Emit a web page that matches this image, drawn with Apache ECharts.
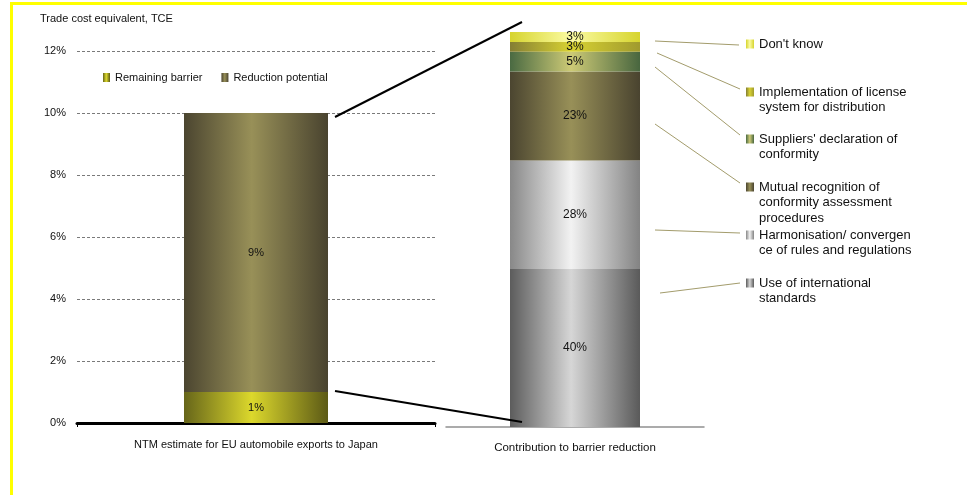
<!DOCTYPE html>
<html>
<head>
<meta charset="utf-8">
<script src="https://cdn.jsdelivr.net/npm/echarts@6/dist/echarts.min.js"></script>
<style>
html,body{margin:0;padding:0;background:#fff;}
#chart{width:967px;height:495px;}
</style>
</head>
<body>
<div id="chart"></div>
<script>
// ---- data ----
const leftCategories = ['NTM estimate for EU automobile exports to Japan'];
const remainingBarrier = [1];
const reductionPotential = [9];
const leftSeriesNames = ['Remaining barrier', 'Reduction potential'];
const yMax = 12;
const yInterval = 2;

const rightCategories = ['Contribution to barrier reduction'];
const contribNames = [
  'Use of international standards',
  'Harmonisation/convergence of rules and regulations',
  'Mutual recognition of conformity assessment procedures',
  "Suppliers' declaration of conformity",
  'Implementation of license system for distribution',
  "Don't know"
];
const contribLegendLabels = [
  'Use of international\nstandards',
  'Harmonisation/ convergen\nce of rules and regulations',
  'Mutual recognition of\nconformity assessment\nprocedures',
  "Suppliers' declaration of\nconformity",
  'Implementation of license\nsystem for distribution',
  "Don't know"
];
const contribValues = [40, 27.5, 22.5, 5, 2.5, 2.5];

// ---- styles ----
const FONT = "'Liberation Sans', Arial, sans-serif";
function grad(edge, mid, edge2) {
  return new echarts.graphic.LinearGradient(0, 0, 1, 0, [
    {offset: 0, color: edge},
    {offset: 0.47, color: mid},
    {offset: 1, color: edge2 || edge}
  ]);
}
const leftColors = [
  grad('#66651a', '#dcd82c', '#5c5a16'),
  grad('#4b4530', '#989058', '#49432f')
];
const rightColors = [
  grad('#5c5c5c', '#d6d6d6', '#5a5a5a'),
  grad('#888888', '#f2f2f2', '#838383'),
  grad('#4b4530', '#989058', '#49432f'),
  grad('#4a6a42', '#cdca76', '#48663f'),
  grad('#847e34', '#d8d232', '#a09a2e'),
  grad('#d6d42e', '#fbfba2', '#d6d42e')
];
const iconTargets = [283, 235, 187, 139, 92, 44];

const chart = echarts.init(document.getElementById('chart'), null, {renderer: 'canvas'});

const series = [];
leftSeriesNames.forEach((n, i) => {
  series.push({
    name: n, type: 'bar', stack: 'left', xAxisIndex: 0, yAxisIndex: 0,
    barWidth: 144,
    data: i === 0 ? remainingBarrier : reductionPotential,
    itemStyle: {color: leftColors[i]},
    label: {show: true, position: 'inside', formatter: '{c}%', color: '#111', fontFamily: FONT, fontSize: 11},
    emphasis: {disabled: true}, animation: false
  });
});
contribNames.forEach((n, i) => {
  series.push({
    name: n, type: 'bar', stack: 'right', xAxisIndex: 1, yAxisIndex: 1,
    barWidth: 130,
    data: [contribValues[i]],
    itemStyle: {color: rightColors[i]},
    label: {show: true, position: 'inside', formatter: p => Math.round(p.value) + '%', color: '#111', fontFamily: FONT, fontSize: 12},
    emphasis: {disabled: true}, animation: false
  });
});

const legends = [{
  data: leftSeriesNames, left: 103, top: 72, padding: 0, icon: 'rect',
  itemWidth: 7, itemHeight: 9, itemGap: 19, selectedMode: false,
  textStyle: {fontFamily: FONT, fontSize: 11, color: '#111'}
}];
contribNames.forEach((n, i) => {
  const lines = contribLegendLabels[i].split('\n').length;
  const lh = 15.5;
  const blanks = new Array(lines - 1).fill(' \n').join('');
  legends.push({
    data: [n], left: 746, top: iconTargets[i] - (2 * lines - 1) * lh / 2, padding: 0,
    orient: 'vertical', icon: 'rect', itemWidth: 8, itemHeight: 9, selectedMode: false,
    formatter: () => blanks + contribLegendLabels[i],
    textStyle: {fontFamily: FONT, fontSize: 13, color: '#111', lineHeight: lh}
  });
});

const leader = '#a39c6c';
function line(x1, y1, x2, y2, color, w) {
  return {type: 'line', shape: {x1, y1, x2, y2}, style: {stroke: color, lineWidth: w}, silent: true, z: 10};
}

chart.setOption({
  backgroundColor: '#ffffff',
  animation: false,
  title: {text: 'Trade cost equivalent, TCE', left: 40, top: 13, padding: 0,
    textStyle: {fontFamily: FONT, fontSize: 11, fontWeight: 'normal', color: '#111'}},
  legend: legends,
  grid: [
    {left: 77, top: 51, width: 358, height: 372, containLabel: false},
    {left: 446, top: 32, width: 258, height: 395, containLabel: false}
  ],
  xAxis: [
    {type: 'category', gridIndex: 0, data: leftCategories,
      axisLine: {lineStyle: {color: '#000', width: 3}},
      axisTick: {show: true, length: 4, lineStyle: {color: '#000', width: 1}},
      axisLabel: {margin: 16, fontFamily: FONT, fontSize: 11, color: '#111'}},
    {type: 'category', gridIndex: 1, data: rightCategories,
      axisLine: {lineStyle: {color: '#909090', width: 1.5}},
      axisTick: {show: false},
      axisLabel: {margin: 15, fontFamily: FONT, fontSize: 11.5, color: '#111'}}
  ],
  yAxis: [
    {type: 'value', gridIndex: 0, min: 0, max: yMax, interval: yInterval,
      axisLine: {show: false}, axisTick: {show: false},
      axisLabel: {formatter: '{value}%', margin: 11, fontFamily: FONT, fontSize: 11, color: '#111'},
      splitLine: {show: true, lineStyle: {color: '#7a7a7a', type: [3, 2], width: 1}}},
    {type: 'value', gridIndex: 1, min: 0, max: 100, show: false, splitLine: {show: false}}
  ],
  series: series,
  graphic: [
    // yellow frame
    {type: 'rect', shape: {x: 10, y: 2, width: 957, height: 3}, style: {fill: '#ffff00'}, silent: true},
    {type: 'rect', shape: {x: 10, y: 2, width: 3, height: 493}, style: {fill: '#ffff00'}, silent: true},
    // connector lines
    line(335, 117, 522, 22, '#000', 2),
    line(335, 391, 522, 422, '#000', 2),
    // leader lines
    line(655, 41, 739, 45, leader, 1),
    line(657, 53, 740, 89, leader, 1),
    line(655, 67, 740, 135, leader, 1),
    line(655, 124, 740, 183, leader, 1),
    line(655, 230, 740, 233, leader, 1),
    line(660, 293, 740, 283, leader, 1)
  ]
});
</script>
</body>
</html>
